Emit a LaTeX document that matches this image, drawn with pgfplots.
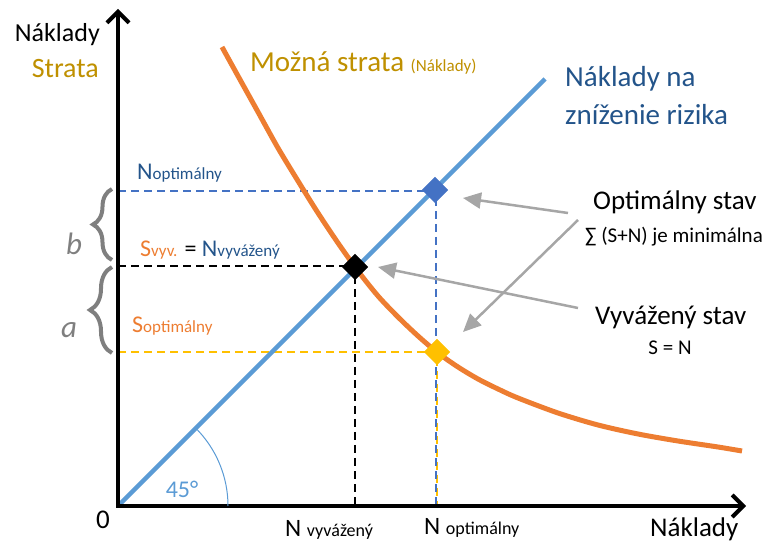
\documentclass[border=0pt]{standalone}
\usepackage{fontspec}
\setmainfont{Carlito}
\usepackage{pgfplots}
\pgfplotsset{compat=1.18}
\usetikzlibrary{arrows.meta,decorations.pathreplacing}

\definecolor{orng}{HTML}{ED7D31}
\definecolor{lblue}{HTML}{5B9BD5}
\definecolor{mblue}{HTML}{4472C4}
\definecolor{dblue}{HTML}{23548A}
\definecolor{gold}{HTML}{BF9000}
\definecolor{yell}{HTML}{FFC000}
\definecolor{agray}{HTML}{A6A6A6}
\definecolor{bgray}{HTML}{7F7F7F}

\newcommand{\fs}[1]{\fontsize{#1bp}{#1bp}\selectfont}

\begin{document}
\begin{tikzpicture}
\begin{axis}[
  x=1bp, y=1bp,
  xmin=-118, xmax=649, ymin=-38, ymax=506,
  hide axis, clip=false,
  dsh/.style={line width=2.5bp, dash pattern=on 8bp off 5bp},
  dia/.style={only marks, mark=square*, mark size=9bp, mark options={rotate=45}},
]
% dashed guide lines
\addplot[dsh, yell] coordinates {(0,154) (319,154) (319,0)};
\addplot[dsh, mblue] coordinates {(0,315) (318,315)};
\addplot[dsh, mblue, dash phase=6bp] coordinates {(318,315) (318,0)};
\addplot[dsh, black] coordinates {(0,240) (237,240) (237,0)};

% points
\addplot[dia, mblue] coordinates {(317,316)};
\addplot[dia, yell] coordinates {(319,154)};
\addplot[dia, black] coordinates {(237,239)};

% costs of risk reduction (45 deg)
\addplot[lblue, line width=4.5bp] coordinates {(0,0) (427,427)};

% possible loss
\addplot[orng, line width=5bp, smooth] coordinates {
  (104,459) (120,430) (140,394) (160,358) (180,325) (200,293) (220,263)
  (240,235) (260,210) (280,189) (300,170) (320,153) (340,139) (360,127)
  (380,117) (400,108) (440,93) (480,81) (520,72) (560,65) (600,59) (624,55)};

% axes
\addplot[black, line width=4bp,
  {Straight Barb[length=11bp,width=22bp]}-{Straight Barb[length=11bp,width=22bp]}]
  coordinates {(0,497) (0,0) (628,0)};

% angle
\draw[lblue, line width=1bp] (axis cs:110,0) arc[start angle=0, end angle=45, radius=110bp];
\node[lblue, font=\fs{24}] at (axis cs:64,17) {45°};

% arrows
\draw[agray, line width=2.5bp, -{Triangle[length=18bp,width=16bp]}] (axis cs:450,293) -- (axis cs:345,308);
\draw[agray, line width=2.5bp, -{Triangle[length=18bp,width=16bp]}] (axis cs:460,286) -- (axis cs:345,174);
\draw[agray, line width=2.5bp, -{Triangle[length=18bp,width=16bp]}] (axis cs:460,198) -- (axis cs:260,239);

% braces
\draw[bgray, line width=4bp, decorate, decoration={brace, amplitude=19bp}] (axis cs:-6,246) -- (axis cs:-6,317);
\draw[bgray, line width=4bp, decorate, decoration={brace, amplitude=22bp}] (axis cs:-6,153) -- (axis cs:-6,239);
\node[bgray, font=\fs{31}\itshape] at (axis cs:-44,262) {b};
\node[bgray, font=\fs{31}\itshape] at (axis cs:-49,176) {a};

% axis labels
\node[anchor=base east, font=\fs{26}, inner sep=0pt] at (axis cs:-18,464) {Náklady};
\node[anchor=base east, gold, font=\fs{28}, inner sep=0pt] at (axis cs:-19,428) {Strata};
\node[anchor=base west, font=\fs{27}, inner sep=0pt] at (axis cs:532,-31) {Náklady};
\node[font=\fs{27}, inner sep=0pt] at (axis cs:-15,-14) {0};
\node[anchor=base west, font=\fs{25}, inner sep=0pt] at (axis cs:167,-31) {N {\fs{18}vyvážený}};
\node[anchor=base west, font=\fs{25}, inner sep=0pt] at (axis cs:306,-29) {N {\fs{18}optimálny}};

% curve labels
\node[anchor=base west, gold, font=\fs{29}, inner sep=0pt] at (axis cs:132,434) {Možná strata {\fs{17}(Náklady)}};
\node[anchor=base west, dblue, font=\fs{29}, inner sep=0pt] at (axis cs:447,419) {Náklady na};
\node[anchor=base west, dblue, font=\fs{29}, inner sep=0pt] at (axis cs:447,381) {zníženie rizika};

% level labels
\node[anchor=base west, dblue, font=\fs{24}, inner sep=0pt] at (axis cs:19,326) {N{\fs{17}optimálny}};
\node[anchor=base west, font=\fs{24}, inner sep=0pt] at (axis cs:22,249)
  {\textcolor{orng}{S{\fs{17}vyv.}} = \textcolor{dblue}{N{\fs{17}vyvážený}}};
\node[anchor=base west, orng, font=\fs{24}, inner sep=0pt] at (axis cs:14,173) {S{\fs{17}optimálny}};

% states
\node[anchor=base west, font=\fs{27}, inner sep=0pt] at (axis cs:475,296) {Optimálny stav};
\node[anchor=base west, font=\fs{21}, inner sep=0pt] at (axis cs:467,263) {∑ (S+N) je minimálna};
\node[anchor=base west, font=\fs{27}, inner sep=0pt] at (axis cs:477,181) {Vyvážený stav};
\node[anchor=base, font=\fs{21}, inner sep=0pt] at (axis cs:552,151) {S = N};
\end{axis}
\pgfresetboundingbox
\path (current axis.south west) rectangle (current axis.north east);
\end{tikzpicture}
\end{document}
